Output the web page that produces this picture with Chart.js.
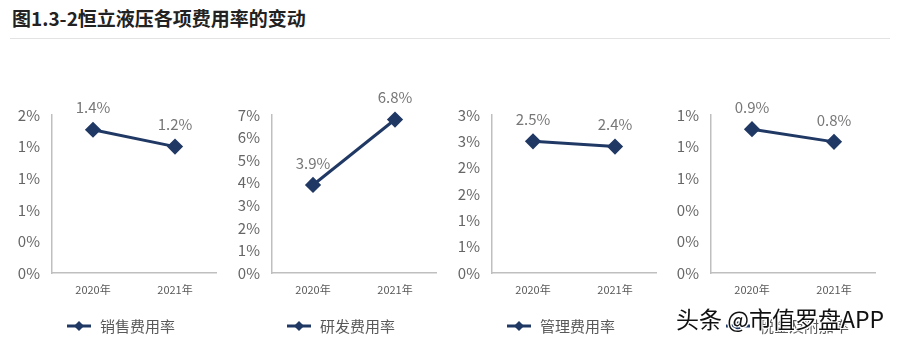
<!DOCTYPE html>
<html>
<head>
<meta charset="utf-8">
<script src="https://cdn.jsdelivr.net/npm/chart.js@4.4.0/dist/chart.umd.min.js"></script>
<style>
  html, body { margin: 0; padding: 0; background: #fff; }
  body { width: 902px; height: 340px; position: relative; overflow: hidden;
         font-family: "Noto Sans CJK SC", "Noto Sans", sans-serif; }
  #title { position: absolute; left: 12px; top: 4px; font-size: 19px; font-weight: bold; color: #222; }
  #rule { position: absolute; left: 10px; top: 38px; width: 880px; height: 1px; background: #e3e3e3; }
  .box { position: absolute; top: 90px; width: 225px; height: 250px; }
  #mark { position: absolute; left: 676px; top: 301px; font-size: 23px; color: #111; z-index: 5;
          text-shadow: -1px -1px 0 #fff, 1px -1px 0 #fff, -1px 1px 0 #fff, 1px 1px 0 #fff; }
</style>
</head>
<body>
<div id="title">图1.3-2恒立液压各项费用率的变动</div>
<div id="rule"></div>
<div class="box" style="left:0px"><canvas id="c1"></canvas></div>
<div class="box" style="left:220px"><canvas id="c2"></canvas></div>
<div class="box" style="left:440px"><canvas id="c3"></canvas></div>
<div class="box" style="left:659px"><canvas id="c4"></canvas></div>
<div id="mark">头条 @市值罗盘APP</div>
<script>
// ---- Data (percent) ----
const years = ['2020年', '2021年'];
const salesRate = [1.36, 1.2];
const rdRate    = [3.9, 6.8];
const adminRate = [2.5, 2.4];
const taxRate   = [0.91, 0.83];

const lineColor = '#203864';
const tickColor = '#666666';
const axisColor = '#bfbfbf';
const cjk = '"Noto Sans CJK SC", "Noto Sans", sans-serif';

// value labels above each point
const valueLabels = {
  id: 'valueLabels',
  afterDatasetsDraw(chart) {
    const ctx = chart.ctx;
    const ds = chart.data.datasets[0];
    chart.getDatasetMeta(0).data.forEach((pt, i) => {
      ctx.save();
      ctx.font = '15px ' + cjk;
      ctx.fillStyle = '#777777';
      ctx.textAlign = 'center';
      ctx.textBaseline = 'middle';
      ctx.fillText(ds.data[i].toFixed(1) + '%', pt.x, pt.y - 22);
      ctx.restore();
    });
  }
};

// legend: line + diamond + text
const lineLegend = {
  id: 'lineLegend',
  afterDraw(chart) {
    const ctx = chart.ctx;
    const y = 236;
    ctx.save();
    ctx.strokeStyle = lineColor;
    ctx.lineWidth = 3;
    ctx.beginPath(); ctx.moveTo(67, y); ctx.lineTo(91, y); ctx.stroke();
    ctx.fillStyle = lineColor;
    ctx.beginPath();
    ctx.moveTo(79, y - 5); ctx.lineTo(84, y); ctx.lineTo(79, y + 5); ctx.lineTo(74, y);
    ctx.closePath(); ctx.fill();
    ctx.font = '15px ' + cjk;
    ctx.fillStyle = '#595959';
    ctx.textBaseline = 'middle';
    ctx.fillText(chart.data.datasets[0].label, 100, y);
    ctx.restore();
  }
};

function makeChart(id, label, values, max, step) {
  new Chart(document.getElementById(id), {
    type: 'line',
    data: {
      labels: years,
      datasets: [{
        label: label, data: values,
        borderColor: lineColor, backgroundColor: lineColor,
        borderWidth: 3, tension: 0, clip: false,
        pointStyle: 'rectRot', pointRadius: 6, pointHoverRadius: 6,
        pointBackgroundColor: lineColor, pointBorderColor: lineColor
      }]
    },
    options: {
      responsive: true, maintainAspectRatio: false, animation: false,
      layout: { padding: { top: 25, right: 4, bottom: 37, left: 0 } },
      plugins: { legend: { display: false }, tooltip: { enabled: false } },
      scales: {
        x: {
          offset: true,
          grid: { drawOnChartArea: false, drawTicks: false },
          border: { color: axisColor, width: 1.5 },
          ticks: { color: '#595959', font: { size: 11, family: cjk }, padding: 10 },
          afterFit: s => { s.height = 30; }
        },
        y: {
          min: 0, max: max,
          grid: { drawOnChartArea: false, drawTicks: false },
          border: { color: axisColor, width: 1.5 },
          ticks: {
            stepSize: step, color: tickColor, padding: 12,
            font: { size: 15, family: cjk },
            callback: v => Math.round(v + 1e-9) + '%'
          },
          afterFit: s => { s.width = 52; }
        }
      }
    },
    plugins: [valueLabels, lineLegend]
  });
}

makeChart('c1', '销售费用率', salesRate, 1.5, 0.3);
makeChart('c2', '研发费用率', rdRate, 7, 1);
makeChart('c3', '管理费用率', adminRate, 3, 0.5);
makeChart('c4', '税金及附加率', taxRate, 1, 0.2);
</script>
</body>
</html>
